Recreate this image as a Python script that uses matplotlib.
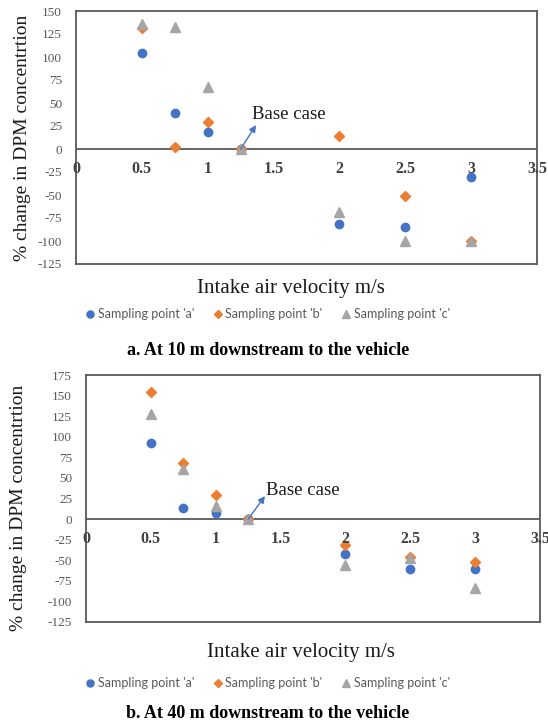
import matplotlib
matplotlib.use("Agg")
import matplotlib.pyplot as plt

# ---- data ----
velocity = [0.5, 0.75, 1.0, 1.25, 2.0, 2.5, 3.0]

a10_pt_a = [104, 39, 18, 0, -81, -85, -30]
a10_pt_b = [131, 2, 29, 0, 14, -51, -100]
a10_pt_c = [136, 133, 67, 0, -68, -100, -100]

b40_pt_a = [93, 14, 7, 0, -43, -61, -61]
b40_pt_b = [154, 68, 29, 0, -31, -46, -52]
b40_pt_c = [128, 61, 16, 0, -56, -47, -84]

series_names = ["Sampling point 'a'", "Sampling point 'b'", "Sampling point 'c'"]
x_ticks = [0, 0.5, 1, 1.5, 2, 2.5, 3, 3.5]
x_tick_labels = ["0", "0.5", "1", "1.5", "2", "2.5", "3", "3.5"]
yticks_a = list(range(-125, 151, 25))
yticks_b = list(range(-125, 176, 25))

xlabel = "Intake air velocity m/s"
ylabel = "% change in DPM concentrtion"
captions = ["a. At 10 m downstream to the vehicle", "b. At 40 m downstream to the vehicle"]

colors = ["#4472C4", "#ED7D31", "#A5A5A5"]
markers = ["o", "D", "^"]
msizes = [6, 5, 6.5]
spine_c = "#595959"
serif = ["Liberation Serif", "DejaVu Serif"]
sans = ["Lato", "DejaVu Sans"]

W, H = 548, 725
fig = plt.figure(figsize=(W / 100, H / 100), dpi=100)


def px_axes(l, t, r, b):
    return fig.add_axes([l / W, 1 - b / H, (r - l) / W, (b - t) / H])


def draw_panel(ax, series, yticks, ann_text_xy, ann_tip):
    for vals, c, m, ms, name in zip(series, colors, markers, msizes, series_names):
        ax.plot(velocity, vals, linestyle="none", marker=m, color=c,
                markersize=ms, label=name, zorder=3, clip_on=False)
    ax.set_xlim(0, 3.5)
    ax.set_ylim(yticks[0], yticks[-1])
    ax.set_yticks(yticks)
    ax.set_yticklabels([str(v) for v in yticks], fontfamily=serif,
                       fontsize=9.5, color=spine_c)
    ax.tick_params(axis="y", length=0, pad=10)
    ax.set_xticks([])
    for s in ax.spines.values():
        s.set_color(spine_c)
        s.set_linewidth(1.3)
    ax.axhline(0, color=spine_c, lw=1.3, zorder=2)
    for xv, lab in zip(x_ticks, x_tick_labels):
        ax.annotate(lab, xy=(xv, 0), xytext=(0, -20), textcoords="offset pixels",
                    ha="center", va="center", fontfamily=serif, fontsize=11.5,
                    fontweight="bold", color="#404040", annotation_clip=False)
    ax.annotate("", xy=ann_tip, xytext=(1.25, 0),
                arrowprops=dict(arrowstyle="-|>", color=colors[0], lw=1,
                                mutation_scale=10, shrinkA=0, shrinkB=0))
    ax.text(ann_text_xy[0], ann_text_xy[1], "Base case", ha="left", va="center",
            fontfamily=serif, fontsize=13.5, color="#1a1a1a")


ax1 = px_axes(76, 11, 537, 264)
draw_panel(ax1, [a10_pt_a, a10_pt_b, a10_pt_c], yticks_a, (1.335, 38), (1.367, 26))
ax2 = px_axes(86, 375, 540, 622)
draw_panel(ax2, [b40_pt_a, b40_pt_b, b40_pt_c], yticks_b, (1.39, 35), (1.38, 28))

# y labels
fig.text(23 / W, 1 - 138 / H, ylabel, rotation=90, ha="center", va="center",
         fontfamily=serif, fontsize=14, color="#1a1a1a")
fig.text(19 / W, 1 - 508 / H, ylabel, rotation=90, ha="center", va="center",
         fontfamily=serif, fontsize=14, color="#1a1a1a")

# x labels
fig.text(291 / W, 1 - 288 / H, xlabel, ha="center", va="center",
         fontfamily=serif, fontsize=15, color="#1a1a1a")
fig.text(301 / W, 1 - 652 / H, xlabel, ha="center", va="center",
         fontfamily=serif, fontsize=15, color="#1a1a1a")

# legends
for ax, yc in ((ax1, 314), (ax2, 683)):
    h, l = ax.get_legend_handles_labels()
    fig.legend(h, l, loc="center", bbox_to_anchor=(268 / W, 1 - yc / H), ncol=3,
               frameon=False, prop={"family": sans, "size": 9},
               labelcolor=spine_c, handlelength=0.6, handletextpad=0.3,
               columnspacing=1.6, markerscale=0.85)

# captions
fig.text(268 / W, 1 - 350 / H, captions[0], ha="center", va="center",
         fontfamily=serif, fontsize=13, fontweight="bold", color="black")
fig.text(268 / W, 1 - 713 / H, captions[1], ha="center", va="center",
         fontfamily=serif, fontsize=13, fontweight="bold", color="black")

fig.savefig("out.png", dpi=100)
